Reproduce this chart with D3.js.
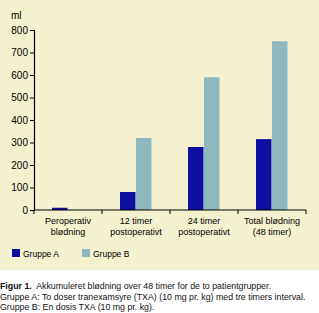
<!DOCTYPE html>
<html>
<head>
<meta charset="utf-8">
<script src="https://cdn.jsdelivr.net/npm/d3@7"></script>
<style>
  body { margin: 0; background: #fff; }
  svg { display: block; }
</style>
</head>
<body>
<div id="chart"></div>
<script>
// data
var categories = [
  ["Peroperativ", "blødning"],
  ["12 timer", "postoperativt"],
  ["24 timer", "postoperativt"],
  ["Total blødning", "(48 timer)"]
];
var groups = ["Gruppe A", "Gruppe B"];
var gruppeA = [10, 80, 280, 315];
var gruppeB = [0, 320, 590, 750];
var yTicks = [0, 100, 200, 300, 400, 500, 600, 700, 800];
var caption = [
  [["Figur 1.", true], ["  Akkumuleret blødning over 48 timer for de to patientgrupper.", false]],
  [["Gruppe A: To doser tranexamsyre (TXA) (10 mg pr. kg) med tre timers interval.", false]],
  [["Gruppe B: En dosis TXA (10 mg pr. kg).", false]]
];

var w = 319, h = 313;
var colA = "#0e0ea0", colB = "#8db8bd";
var font = "Liberation Sans, Arial, sans-serif";

var svg = d3.select("#chart").append("svg")
  .attr("width", w)
  .attr("height", h);

// beige panel
svg.append("rect")
  .attr("x", 0).attr("y", 0)
  .attr("width", w).attr("height", 270)
  .attr("fill", "#f3f1cf");

var x0 = d3.scaleBand()
  .domain(d3.range(categories.length))
  .range([34, 306]);

var x1 = d3.scaleBand()
  .domain([0, 1])
  .range([0, 32]);

var y = d3.scaleLinear()
  .domain([0, 800])
  .range([210, 30]);

// y axis
var yAxis = svg.append("g")
  .attr("transform", "translate(34,0)")
  .call(d3.axisLeft(y).tickValues(yTicks).tickSize(4).tickPadding(2));
yAxis.select(".domain").attr("stroke", "#000").attr("stroke-width", 1.2);
yAxis.selectAll("text").attr("font-family", font).attr("font-size", 10).attr("fill", "#000");

svg.append("text")
  .attr("x", 11).attr("y", 19)
  .attr("font-family", font).attr("font-size", 10)
  .text("ml");

// bars
var cat = svg.selectAll("g.cat")
  .data(categories)
  .enter().append("g")
  .attr("class", "cat")
  .attr("transform", function(d, i) {
    return "translate(" + (x0(i) + x0.bandwidth() / 2 - 16) + ",0)";
  });

cat.selectAll("rect")
  .data(function(d, i) { return [gruppeA[i], gruppeB[i]]; })
  .enter().append("rect")
  .attr("x", function(d, j) { return x1(j); })
  .attr("width", x1.bandwidth() - 0.5)
  .attr("y", function(d) { return y(d); })
  .attr("height", function(d) { return y(0) - y(d); })
  .attr("fill", function(d, j) { return j == 0 ? colA : colB; });

// x axis
var xAxisG = svg.append("g").attr("transform", "translate(0,210)");
xAxisG.append("line")
  .attr("x1", 34).attr("x2", 306)
  .attr("stroke", "#000").attr("stroke-width", 1.2);
xAxisG.selectAll("line.tk")
  .data(d3.range(categories.length + 1))
  .enter().append("line")
  .attr("class", "tk")
  .attr("x1", function(i) { return 34 + i * x0.bandwidth(); })
  .attr("x2", function(i) { return 34 + i * x0.bandwidth(); })
  .attr("y1", 0).attr("y2", 4)
  .attr("stroke", "#000");

var lbl = svg.selectAll("text.xl")
  .data(categories)
  .enter().append("text")
  .attr("class", "xl")
  .attr("text-anchor", "middle")
  .attr("font-family", font).attr("font-size", 9)
  .attr("x", function(d, i) { return x0(i) + x0.bandwidth() / 2; })
  .attr("y", 224);
lbl.selectAll("tspan")
  .data(function(d) { return d; })
  .enter().append("tspan")
  .attr("x", function() { return d3.select(this.parentNode).attr("x"); })
  .attr("dy", function(d, k) { return k == 0 ? 0 : 11; })
  .text(function(d) { return d; });

// legend
var leg = svg.selectAll("g.leg")
  .data(groups)
  .enter().append("g")
  .attr("class", "leg")
  .attr("transform", function(d, i) { return "translate(" + (12 + i * 70) + ",249)"; });
leg.append("rect")
  .attr("width", 8).attr("height", 8)
  .attr("fill", function(d, i) { return i == 0 ? colA : colB; });
leg.append("text")
  .attr("x", 11).attr("y", 7.5)
  .attr("font-family", font).attr("font-size", 8.5)
  .text(function(d) { return d; });

// caption
var cap = svg.selectAll("text.cap")
  .data(caption)
  .enter().append("text")
  .attr("class", "cap")
  .attr("x", 0)
  .attr("y", function(d, i) { return 289 + i * 10.5; })
  .attr("font-family", font).attr("font-size", 8.8)
  .attr("fill", "#111");
cap.selectAll("tspan")
  .data(function(d) { return d; })
  .enter().append("tspan")
  .attr("font-weight", function(d) { return d[1] ? "bold" : "normal"; })
  .attr("xml:space", "preserve")
  .text(function(d) { return d[0]; });
</script>
</body>
</html>
